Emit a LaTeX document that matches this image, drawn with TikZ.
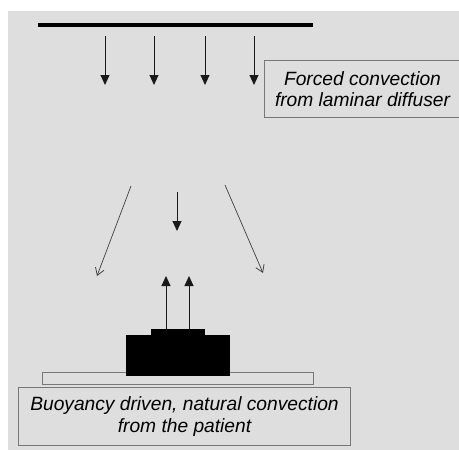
\documentclass[tikz,border=0pt]{standalone}
\usepackage{fontspec}
\setmainfont{Liberation Sans}
\usetikzlibrary{arrows.meta}
\definecolor{bg}{HTML}{DEDEDE}
\definecolor{edge}{HTML}{777777}
\tikzset{
  flow/.style={draw=black!90, line width=0.9pt, -{Triangle[width=9pt,length=10pt]}},
  spread/.style={draw=black!75, line width=0.7pt, -{Straight Barb[width=9pt,length=7pt,line width=0.8pt]}},
  label/.style={draw=edge, line width=1pt, fill=bg, align=center, font=\itshape\fontsize{19.2}{21.5}\selectfont, inner sep=0pt},
}
\begin{document}
\begin{tikzpicture}[x=1pt,y=-1pt]
\useasboundingbox (0,0) rectangle (459,450);
\fill[bg] (8,11) rectangle (459,450);
% diffuser
\fill[black] (38,22.5) rectangle (313,27);
% forced convection arrows
\foreach \x/\n in {105/a,154/b,205/c,254/d}{
  \coordinate (\n1) at (\x,36);
  \coordinate (\n2) at (\x,85);
  \draw[flow] (\n1) -- (\n2);
}
\node[label, minimum width=196pt, minimum height=57pt, anchor=north west] (forced) at (264,60) {Forced convection\\from laminar diffuser};
% spread arrows
\coordinate (l1) at (131,186); \coordinate (l2) at (97,276);
\coordinate (r1) at (225,185); \coordinate (r2) at (263,273);
\draw[spread] (l1) -- (l2);
\draw[spread] (r1) -- (r2);
\coordinate (m1) at (177,192); \coordinate (m2) at (177,231);
\draw[flow] (m1) -- (m2);
% table
\node[draw=edge, line width=1.2pt, fill=bg, minimum width=271pt, minimum height=12pt, inner sep=0pt, anchor=north west] (table) at (42,372) {};
% patient
\fill[black] (151,329) rectangle (205,336);
\node[fill=black, minimum width=104pt, minimum height=41pt, inner sep=0pt, anchor=north west] (patient) at (126,335) {};
% buoyancy arrows
\coordinate (u1) at (166,329); \coordinate (u2) at (166,276);
\coordinate (v1) at (189,329); \coordinate (v2) at (189,276);
\draw[flow] (u1) -- (u2);
\draw[flow] (v1) -- (v2);
\node[label, minimum width=332pt, minimum height=58pt, anchor=north west] (natural) at (18,387) {Buoyancy driven, natural convection\\from the patient};
\end{tikzpicture}
\end{document}
